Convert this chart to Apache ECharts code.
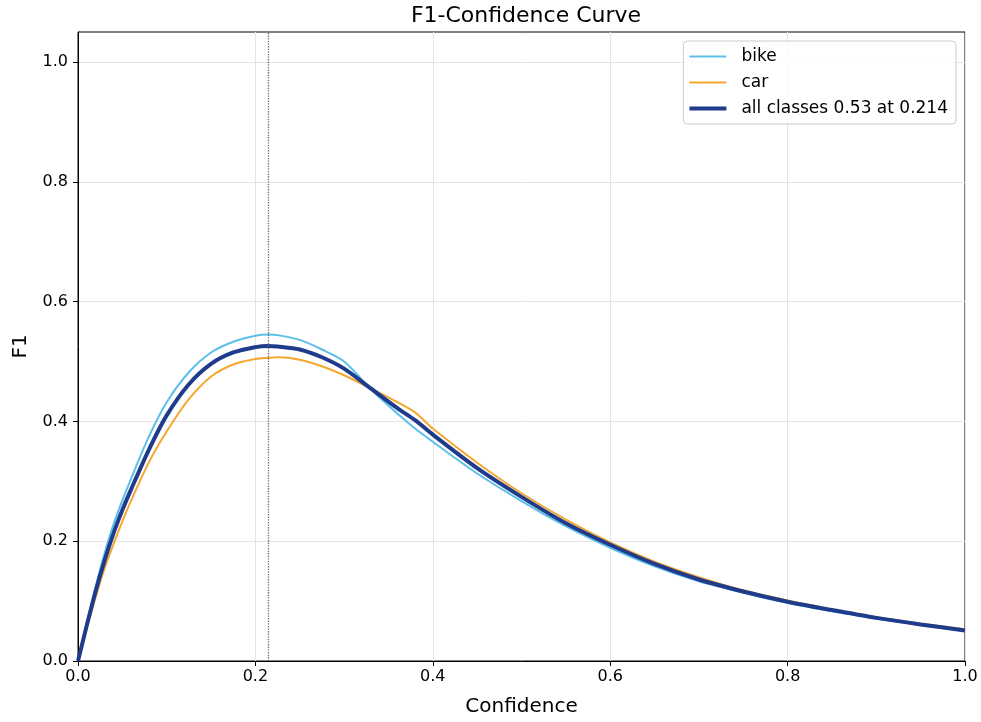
<!DOCTYPE html>
<html>
<head>
<meta charset="utf-8">
<script src="https://cdn.jsdelivr.net/npm/echarts@6/dist/echarts.min.js"></script>
<style>
  html, body { margin: 0; padding: 0; background: #fff; }
  #chart { width: 981px; height: 722px; }
</style>
</head>
<body>
<div id="chart"></div>
<script>
  // confidence thresholds (x)
  const conf = [0, 0.01, 0.02, 0.03, 0.04, 0.05, 0.06, 0.08, 0.1, 0.125, 0.15, 0.175, 0.2, 0.214, 0.225,
    0.25, 0.275, 0.3, 0.33, 0.36, 0.38, 0.4, 0.45, 0.5, 0.55, 0.6, 0.65, 0.7, 0.75, 0.8, 0.85, 0.9, 0.95, 1.0];

  // F1 values
  const bikeF1 = [0, 0.065, 0.125, 0.180, 0.228, 0.268, 0.305, 0.375, 0.432, 0.482, 0.515, 0.533, 0.543, 0.545, 0.544,
    0.536, 0.520, 0.500, 0.454, 0.413, 0.388, 0.366, 0.313, 0.267, 0.225, 0.189, 0.158, 0.133, 0.114, 0.097, 0.083, 0.071, 0.060, 0.050];
  const carF1 = [0, 0.055, 0.107, 0.155, 0.195, 0.233, 0.268, 0.332, 0.383, 0.437, 0.475, 0.495, 0.504, 0.506, 0.507,
    0.503, 0.492, 0.477, 0.455, 0.432, 0.415, 0.388, 0.331, 0.280, 0.236, 0.198, 0.166, 0.140, 0.118, 0.101, 0.086, 0.073, 0.062, 0.053];
  const allF1 = [0, 0.060, 0.117, 0.168, 0.213, 0.252, 0.287, 0.353, 0.410, 0.462, 0.496, 0.515, 0.524, 0.526, 0.525,
    0.520, 0.507, 0.488, 0.455, 0.422, 0.402, 0.378, 0.322, 0.274, 0.230, 0.194, 0.162, 0.136, 0.116, 0.099, 0.085, 0.072, 0.061, 0.051];

  const bestConf = 0.214;
  const tickVals = [0, 0.2, 0.4, 0.6, 0.8, 1.0];
  const seriesNames = ["bike", "car", "all classes 0.53 at 0.214"];

  const font = "DejaVu Sans";
  const pair = (ys) => conf.map((x, i) => [x, ys[i]]);

  // plain line icons for the legend (thin for classes, thick for the mean)
  const thinIcon = "path://M0,0H37V2H0Z";
  const thickIcon = "path://M0,0H37V4H0Z";

  let chart = echarts.init(document.getElementById("chart"), null, { renderer: "canvas" });

  let option = {
    animation: false,
    backgroundColor: "#fff",
    textStyle: { fontFamily: font, color: "#000" },
    title: {
      text: "F1-Confidence Curve",
      left: 521,
      textAlign: "center",
      top: 0,
      textStyle: { fontFamily: font, fontSize: 22, fontWeight: "normal", color: "#000" }
    },
    legend: {
      data: [
        { name: seriesNames[0], icon: thinIcon },
        { name: seriesNames[1], icon: thinIcon },
        { name: seriesNames[2], icon: thickIcon }
      ],
      orient: "vertical",
      right: 25,
      top: 41,
      itemWidth: 37,
      itemHeight: 12,
      itemGap: 9,
      symbolKeepAspect: true,
      padding: [7, 8, 7, 6],
      backgroundColor: "rgba(255,255,255,0.85)",
      borderColor: "#cccccc",
      borderWidth: 1,
      borderRadius: 4,
      textStyle: { fontFamily: font, fontSize: 17, color: "#000", padding: [0, 0, 0, 10] }
    },
    grid: {
      left: 78,
      right: 16,
      top: 32,
      bottom: 60,
      show: true,
      borderColor: "#000",
      borderWidth: 1,
      backgroundColor: "transparent"
    },
    xAxis: {
      type: "value",
      min: 0,
      max: 1,
      interval: 0.2,
      name: "Confidence",
      nameLocation: "middle",
      nameGap: 36,
      nameTextStyle: { fontFamily: font, fontSize: 20, color: "#000" },
      axisLine: { show: true, lineStyle: { color: "#000", width: 1 } },
      axisTick: { show: true, length: 5, lineStyle: { color: "#000" } },
      axisLabel: {
        margin: 8,
        fontFamily: font,
        fontSize: 16,
        color: "#000",
        formatter: (v) => v.toFixed(1)
      },
      splitLine: { show: true, lineStyle: { color: "#e4e4e4", width: 1 } }
    },
    yAxis: {
      type: "value",
      min: 0,
      max: 1.05,
      interval: 0.2,
      name: "F1",
      nameLocation: "middle",
      nameGap: 47,
      nameTextStyle: { fontFamily: font, fontSize: 20, color: "#000" },
      axisLine: { show: true, lineStyle: { color: "#000", width: 1 } },
      axisTick: { show: true, length: 5, lineStyle: { color: "#000" }, customValues: tickVals },
      axisLabel: {
        margin: 10,
        fontFamily: font,
        fontSize: 16,
        color: "#000",
        customValues: tickVals,
        formatter: (v) => v.toFixed(1)
      },
      splitLine: { show: true, lineStyle: { color: "#e4e4e4", width: 1 } }
    },
    series: [
      {
        name: seriesNames[0],
        type: "line",
        symbol: "none",
        smooth: 0.3,
        lineStyle: { color: "#5bbfea", width: 2 },
        itemStyle: { color: "#5bbfea" },
        data: pair(bikeF1),
        z: 2
      },
      {
        name: seriesNames[1],
        type: "line",
        symbol: "none",
        smooth: 0.3,
        lineStyle: { color: "#f5a62f", width: 2 },
        itemStyle: { color: "#f5a62f" },
        data: pair(carF1),
        z: 3
      },
      {
        name: seriesNames[2],
        type: "line",
        symbol: "none",
        smooth: 0.3,
        lineStyle: { color: "#1f3b8c", width: 4 },
        itemStyle: { color: "#1f3b8c" },
        data: pair(allF1),
        z: 4,
        markLine: {
          silent: true,
          precision: 4,
          symbol: ["none", "none"],
          label: { show: false },
          lineStyle: { type: "dotted", color: "#666", width: 1.3 },
          data: [{ xAxis: bestConf }]
        }
      }
    ]
  };

  chart.setOption(option);

  window.addEventListener("resize", () => {
    chart.resize();
  });
</script>
</body>
</html>
